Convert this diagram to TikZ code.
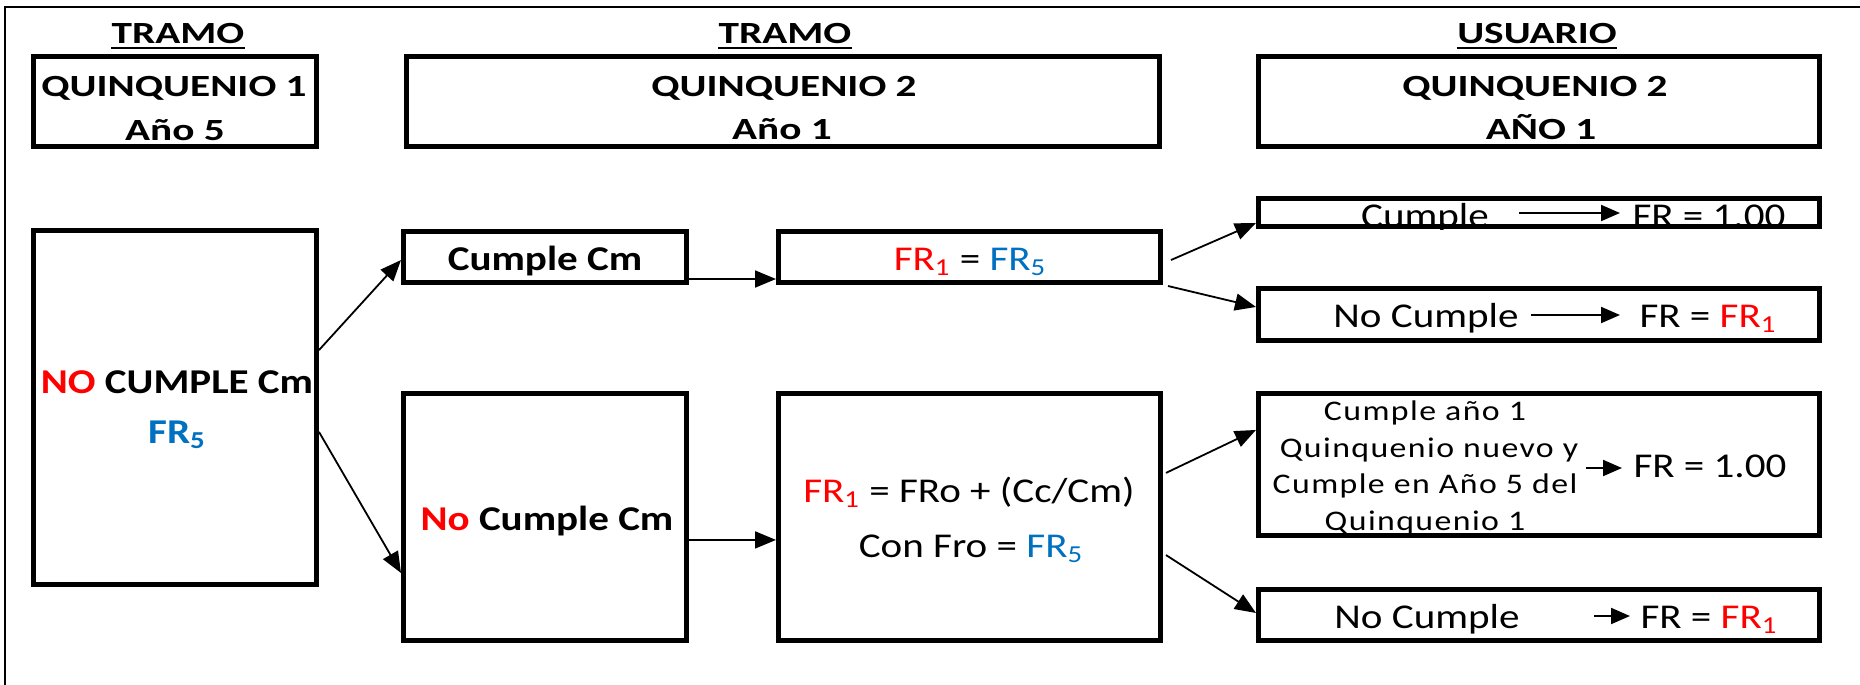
\documentclass[tikz,border=0pt]{standalone}
\usepackage{fontspec}
\setmainfont{Carlito}[FakeStretch=1.18]
\newfontfamily\hdfont{Carlito}[FakeStretch=1.34]
\newfontfamily\smfont{Carlito}[FakeStretch=1.19,LetterSpace=5]
\usetikzlibrary{arrows.meta,calc}
\definecolor{frblue}{HTML}{0070C0}
\definecolor{frred}{HTML}{FF0000}
\begin{document}
\begin{tikzpicture}[x=0.5pt,y=-0.5pt,
  bx/.style={draw, line width=2.4pt, inner sep=0pt},
  txt/.style={inner sep=0pt, anchor=base},
  hd/.style={txt, font=\hdfont\fontsize{15.4pt}{18pt}\selectfont\bfseries},
  bd/.style={txt, font=\fontsize{17.4pt}{21pt}\selectfont\bfseries},
  rg/.style={txt, font=\fontsize{17.4pt}{21pt}\selectfont},
  sm/.style={txt, font=\smfont\fontsize{14.2pt}{17pt}\selectfont},
  conn/.style={line width=0.9pt, -{Triangle[length=10.5pt,width=8.5pt]}},
  ia/.style={line width=1pt, -{Triangle[length=9.5pt,width=8pt]}},
  outerline/.style={line width=1pt}]
\useasboundingbox (0,0) rectangle (1860,685);
\draw[outerline] (5,685) -- (5,7) -- (1860,7);

% boxes
\node[bx, minimum width=141.6pt, minimum height=45.1pt] (q1) at (175,101.5) {};
\node[bx, minimum width=376.6pt, minimum height=45.1pt] (q2) at (783,101.5) {};
\node[bx, minimum width=280.6pt, minimum height=45.1pt] (qu) at (1539,101.5) {};
\node[bx, minimum width=141.6pt, minimum height=177.1pt] (nc) at (175,407.5) {};
\node[bx, minimum width=141.6pt, minimum height=25.6pt] (cc) at (545,257) {};
\node[bx, minimum width=141.6pt, minimum height=123.6pt] (ncc) at (545,517) {};
\node[bx, minimum width=191.1pt, minimum height=25.6pt] (fr) at (969.5,257) {};
\node[bx, minimum width=191.1pt, minimum height=123.6pt] (fo) at (969.5,517) {};
\node[bx, minimum width=280.6pt, minimum height=14.1pt] (r1) at (1539,212.5) {};
\node[bx, minimum width=280.6pt, minimum height=26.1pt] (r2) at (1539,314.5) {};
\node[bx, minimum width=280.6pt, minimum height=71.1pt] (r3) at (1539,464.5) {};
\node[bx, minimum width=280.6pt, minimum height=25.6pt] (r4) at (1539,615) {};

% headers
\node[hd] (h1) at (178,43) {TRAMO};
\node[hd] (h2) at (785,43) {TRAMO};
\node[hd] (h3) at (1537,43) {USUARIO};
\draw[line width=1pt] ($(h1.base west)+(0,5)$) -- ($(h1.base east)+(0,5)$);
\draw[line width=1pt] ($(h2.base west)+(0,5)$) -- ($(h2.base east)+(0,5)$);
\draw[line width=1pt] ($(h3.base west)+(0,5)$) -- ($(h3.base east)+(0,5)$);
\node[hd] (q1a) at (174,97) {QUINQUENIO 1};
\node[hd] (q1b) at (175,140) {Año 5};
\node[hd] (q2a) at (784,97) {QUINQUENIO 2};
\node[hd] (q2b) at (782,139) {Año 1};
\node[hd] (qua) at (1535,97) {QUINQUENIO 2};
\node[hd] (qub) at (1541,139) {AÑO 1};

% body texts
\node[bd] (nct1) at (177,393) {\textcolor{frred}{NO} CUMPLE Cm};
\node[bd] (nct2) at (177,443) {\textcolor{frblue}{FR\textsubscript{5}}};
\node[bd] (cct) at (545,270) {Cumple Cm};
\node[bd] (ncct) at (547,530) {\textcolor{frred}{No} Cumple Cm};
\node[rg] (frt) at (970,270) {\textcolor{frred}{FR\textsubscript{1}} = \textcolor{frblue}{FR\textsubscript{5}}};
\node[rg] (fo1) at (969,502) {\textcolor{frred}{FR\textsubscript{1}} = FRo + (Cc/Cm)};
\node[rg] (fo2) at (971,557) {Con Fro = \textcolor{frblue}{FR\textsubscript{5}}};

% right column
\begin{scope}
\clip (1256,196) rectangle (1822,229);
\node[rg] (r1l) at (1425,227) {Cumple};
\node[rg] (r1r) at (1709,227) {FR = 1.00};
\end{scope}
\coordinate (r1a) at (1519,213); \coordinate (r1b) at (1620,213);
\draw[ia] (r1a) -- (r1b);

\node[rg] (r2l) at (1426,327) {No Cumple};
\node[rg] (r2r) at (1708,327) {FR = \textcolor{frred}{FR\textsubscript{1}}};
\coordinate (r2a) at (1531,315); \coordinate (r2b) at (1620,315);
\draw[ia] (r2a) -- (r2b);

\node[sm] (r3l1) at (1425,420) {Cumple año 1};
\node[sm] (r3l2) at (1429,457) {Quinquenio nuevo y};
\node[sm] (r3l3) at (1425,493) {Cumple en Año 5 del};
\node[sm] (r3l4) at (1425,530) {Quinquenio 1};
\node[rg] (r3r) at (1710,477) {FR = 1.00};
\coordinate (r3a) at (1586,468); \coordinate (r3b) at (1622,468);
\draw[ia] (r3a) -- (r3b);

\node[rg] (r4l) at (1427,628) {No Cumple};
\node[rg] (r4r) at (1709,628) {FR = \textcolor{frred}{FR\textsubscript{1}}};
\coordinate (r4a) at (1594,616); \coordinate (r4b) at (1630,616);
\draw[ia] (r4a) -- (r4b);

% connectors
\draw[conn] ($(nc.north east)!0.34!(nc.south east)$) -- ($(cc.north west)!0.554!(cc.south west)$);
\draw[conn] ($(nc.north east)!0.568!(nc.south east)$) -- ($(ncc.north west)!0.722!(ncc.south west)$);
\draw[conn] ($(cc.north east)!0.893!(cc.south east)$) -- ($(fr.north west)!0.893!(fr.south west)$);
\draw[conn] ($(ncc.north east)!0.591!(ncc.south east)$) -- ($(fo.north west)!0.591!(fo.south west)$);
\draw[conn] ($(fr.north east)!0.554!(fr.south east)+(8,0)$) -- ($(r1.north west)!0.818!(r1.south west)$);
\draw[conn] ($(fr.south east)+(5,1)$) -- ($(r2.north west)!0.368!(r2.south west)$);
\draw[conn] ($(fo.north east)!0.325!(fo.south east)+(3,0)$) -- ($(r3.north west)!0.265!(r3.south west)$);
\draw[conn] ($(fo.north east)!0.651!(fo.south east)+(3,0)$) -- ($(r4.north west)!0.464!(r4.south west)$);
\end{tikzpicture}
\end{document}
